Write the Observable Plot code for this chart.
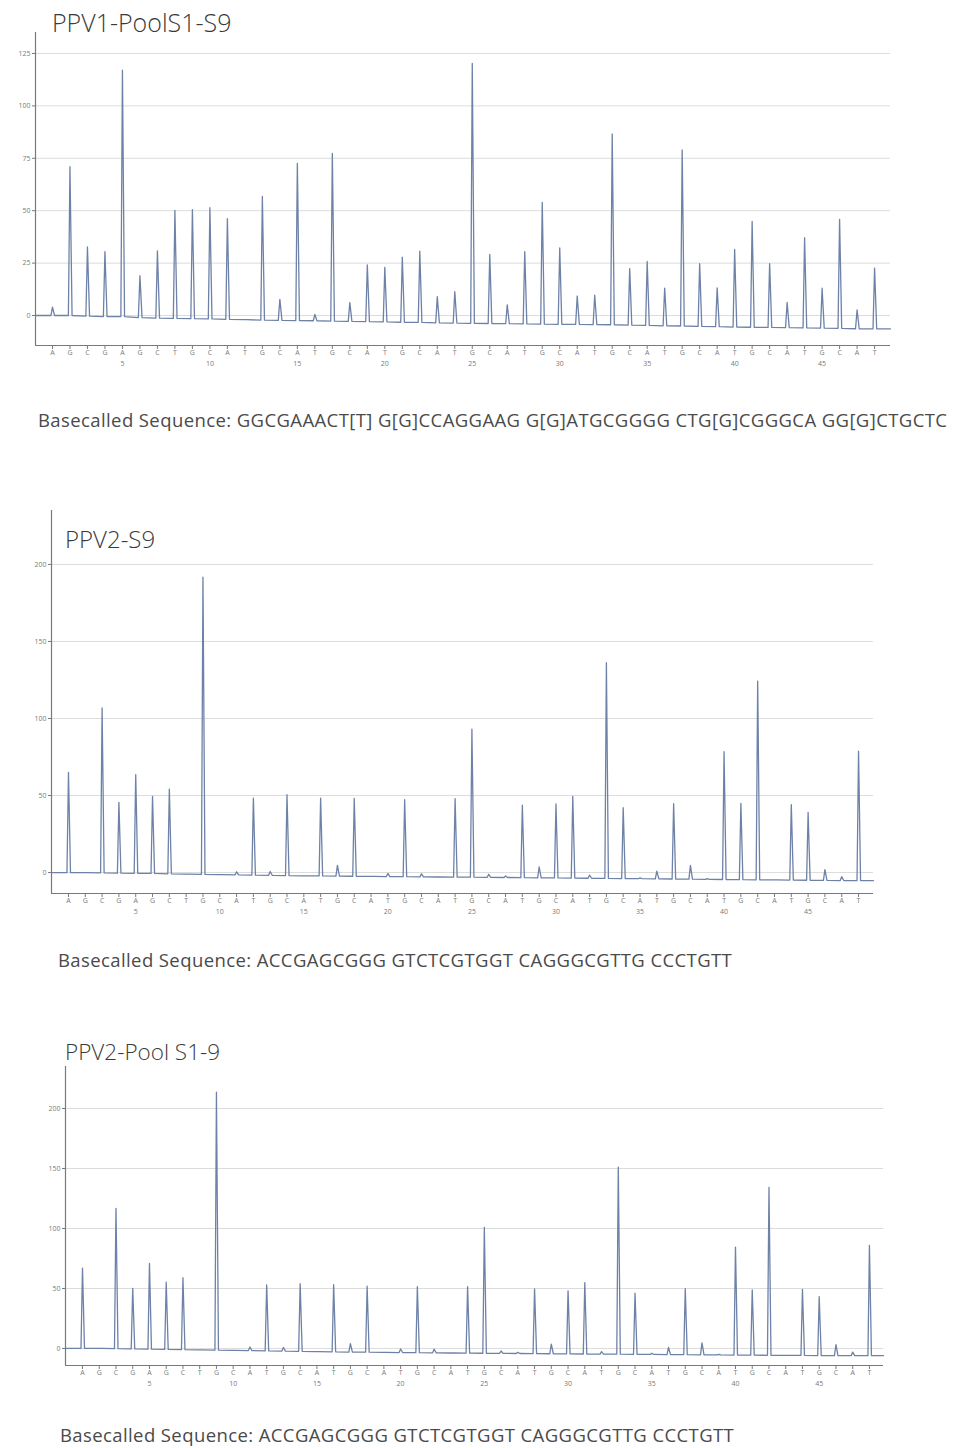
<!DOCTYPE html>
<html>
<head>
<meta charset="utf-8">
<script src="https://cdn.jsdelivr.net/npm/d3@7"></script>
<script src="https://cdn.jsdelivr.net/npm/@observablehq/plot@0.6"></script>
<style>
  html, body { margin: 0; padding: 0; background: #fff; }
  #page { position: relative; width: 957px; height: 1448px; overflow: hidden; font-family: "Open Sans", "Noto Sans", sans-serif; }
  .panel { position: absolute; left: 0; }
  .title { position: absolute; color: #3a3a3a; font-weight: 300; white-space: nowrap; }
  .seq { position: absolute; color: #4a4a4a; font-size: 18.5px; line-height: 18.5px; letter-spacing: 0.4px; white-space: nowrap; }
</style>
</head>
<body>
<div id="page"></div>
<script>
// Nucleotide dispensation order (48 dispensations)
const dispensation = ["A","G","C","G","A","G","C","T",
  "G","C","A","T","G","C","A","T","G","C","A","T","G","C","A","T",
  "G","C","A","T","G","C","A","T","G","C","A","T","G","C","A","T",
  "G","C","A","T","G","C","A","T"];
const positionTicks = [5, 10, 15, 20, 25, 30, 35, 40, 45];

// PPV1-PoolS1-S9: peak heights above the baseline, and the baseline drift
const ppv1PoolHeights = [4, 71, 33, 31, 117.5, 20, 32, 51.5, 52, 53, 48, 0, 59, 10, 75, 3,
  80, 9, 27, 26, 31, 34, 12.5, 15, 124, 33, 9, 34.5, 58, 36.5, 13.5, 14,
  91, 27, 30.5, 18, 84, 30, 18.5, 37, 50.5, 30.5, 12, 43, 19, 52, 9, 29];
const ppv1PoolBase = [0, 0, -0.3, -0.5, -0.5, -1, -1.2, -1.4, -1.5, -1.6, -1.8, -2, -2.2, -2.3, -2.4, -2.5,
  -2.7, -2.8, -2.9, -3, -3.2, -3.3, -3.5, -3.6, -3.7, -3.8, -3.9, -4, -4.1, -4.2, -4.2, -4.3,
  -4.4, -4.6, -4.7, -4.9, -5, -5.2, -5.3, -5.5, -5.6, -5.7, -5.8, -5.9, -6, -6.1, -6.3, -6.4];
const ppv1PoolTicks = [0, 25, 50, 75, 100, 125];

// PPV2-S9
const ppv2S9Heights = [65, 0, 107, 46, 64, 50, 55, 0, 193, 0, 2, 50, 2.5, 52.5, 0, 50.5,
  7, 50.5, 0, 2, 50, 2, 0, 51, 96, 2, 1, 47, 7, 48, 53, 2,
  140, 46, 0.5, 5, 49, 9, 0.5, 83, 49.5, 129, 0, 49, 44, 7, 2.5, 84];
const ppv2S9Base = [0, 0, -0.2, -0.4, -0.5, -0.6, -0.8, -1, -1.2, -1.4, -1.5, -1.7, -1.8, -2, -2.1, -2.2,
  -2.3, -2.4, -2.5, -2.6, -2.7, -2.8, -2.9, -3, -3, -3.1, -3.2, -3.3, -3.4, -3.5, -3.6, -3.7,
  -3.8, -3.9, -4, -4.1, -4.2, -4.3, -4.4, -4.5, -4.6, -4.7, -4.8, -4.9, -5, -5.1, -5.2, -5.2];

// PPV2-Pool S1-9
const ppv2PoolHeights = [67, 0, 117, 50.5, 71.5, 56, 60, 0, 215, 0, 3, 55, 3, 56.5, 0, 56,
  7, 55, 0, 3, 55, 3, 0, 55.5, 105, 2, 1, 54, 8, 52.5, 59.5, 2,
  156, 51, 1, 6, 55, 10, 0.5, 90, 54.5, 140, 0, 55, 49, 9, 3, 92];
const ppv2PoolBase = [0, 0, -0.2, -0.4, -0.6, -0.8, -1, -1.2, -1.4, -1.6, -1.8, -2, -2.2, -2.4, -2.6, -2.8,
  -3, -3.1, -3.2, -3.4, -3.5, -3.6, -3.8, -3.9, -4, -4.1, -4.2, -4.3, -4.4, -4.5, -4.6, -4.7,
  -4.8, -4.9, -5, -5.1, -5.2, -5.3, -5.4, -5.5, -5.6, -5.7, -5.8, -5.8, -5.9, -5.9, -6, -6];
const ppv2Ticks = [0, 50, 100, 150, 200];

const titles = ["PPV1-PoolS1-S9", "PPV2-S9", "PPV2-Pool S1-9"];
const sequences = [
  "Basecalled Sequence: GGCGAAACT[T] G[G]CCAGGAAG G[G]ATGCGGGG CTG[G]CGGGCA GG[G]CTGCTC",
  "Basecalled Sequence: ACCGAGCGGG GTCTCGTGGT CAGGGCGTTG CCCTGTT",
  "Basecalled Sequence: ACCGAGCGGG GTCTCGTGGT CAGGGCGTTG CCCTGTT"
];

const page = document.getElementById("page");
const positions = dispensation.map((d, i) => i + 1);

// Build a pyrogram trace: flat baseline with a narrow spike at every dispensation
function pyrogramTrace(heights, base, xDomain) {
  const pts = [{x: xDomain[0], y: base[0]}];
  heights.forEach((h, i) => {
    const p = i + 1;
    pts.push({x: p - 0.09, y: base[i]});
    pts.push({x: p, y: base[i] + h});
    pts.push({x: p + 0.12, y: base[i]});
  });
  pts.push({x: xDomain[1], y: base[base.length - 1]});
  return pts;
}

function pyrogram(cfg) {
  const trace = pyrogramTrace(cfg.heights, cfg.base, cfg.xDomain);
  return Plot.plot({
    width: 957,
    height: cfg.height,
    marginLeft: cfg.marginLeft,
    marginRight: cfg.marginRight,
    marginTop: cfg.marginTop,
    marginBottom: cfg.marginBottom,
    style: {background: "transparent", color: "#7a7a7a", fontFamily: "Open Sans, sans-serif"},
    x: {type: "linear", domain: cfg.xDomain, label: null},
    y: {domain: cfg.yDomain, label: null},
    marks: [
      Plot.gridY(cfg.yTicks, {stroke: "#dcdcdc", strokeOpacity: 1, strokeWidth: 1}),
      Plot.line(trace, {x: "x", y: "y", stroke: "#6e82a8", strokeWidth: 1.3, curve: "linear"}),
      Plot.ruleX([cfg.xDomain[0]], {stroke: "#7a7a7a", strokeWidth: 1.2}),
      Plot.ruleY([cfg.yDomain[0]], {stroke: "#7a7a7a", strokeWidth: 1.2}),
      Plot.axisY(cfg.yTicks, {tickSize: 3, tickPadding: 2, fontSize: 7, label: null}),
      Plot.axisX(positions, {tickFormat: d => dispensation[d - 1], tickSize: 4, tickPadding: 1, fontSize: 7, label: null}),
      Plot.axisX(positionTicks, {tickSize: 0, tickPadding: 16, fontSize: 7, label: null})
    ]
  });
}

const panels = [
  {top: 0, height: 380, marginTop: 32, marginBottom: 35, marginLeft: 35, marginRight: 67,
   xDomain: [0.03, 48.91], yDomain: [-14.3, 135], yTicks: ppv1PoolTicks,
   heights: ppv1PoolHeights, base: ppv1PoolBase,
   title: {left: 52, top: 10, size: 25}, seq: {left: 38, top: 411}},
  {top: 500, height: 430, marginTop: 10, marginBottom: 37, marginLeft: 51, marginRight: 84,
   xDomain: [-0.01, 48.89], yDomain: [-13.6, 235], yTicks: ppv2Ticks,
   heights: ppv2S9Heights, base: ppv2S9Base,
   title: {left: 65, top: 527, size: 24}, seq: {left: 58, top: 951}},
  {top: 1040, height: 360, marginTop: 26, marginBottom: 35, marginLeft: 65, marginRight: 74,
   xDomain: [-0.015, 48.84], yDomain: [-14.2, 235], yTicks: ppv2Ticks,
   heights: ppv2PoolHeights, base: ppv2PoolBase,
   title: {left: 65, top: 1041, size: 22.5}, seq: {left: 60, top: 1426}}
];

panels.forEach((cfg, k) => {
  const holder = document.createElement("div");
  holder.className = "panel";
  holder.style.top = cfg.top + "px";
  holder.appendChild(pyrogram(cfg));
  page.appendChild(holder);

  const t = document.createElement("div");
  t.className = "title";
  t.textContent = titles[k];
  t.style.left = cfg.title.left + "px";
  t.style.top = cfg.title.top + "px";
  t.style.fontSize = cfg.title.size + "px";
  t.style.lineHeight = cfg.title.size + "px";
  page.appendChild(t);

  const s = document.createElement("div");
  s.className = "seq";
  s.textContent = sequences[k];
  s.style.left = cfg.seq.left + "px";
  s.style.top = cfg.seq.top + "px";
  page.appendChild(s);
});
</script>
</body>
</html>
